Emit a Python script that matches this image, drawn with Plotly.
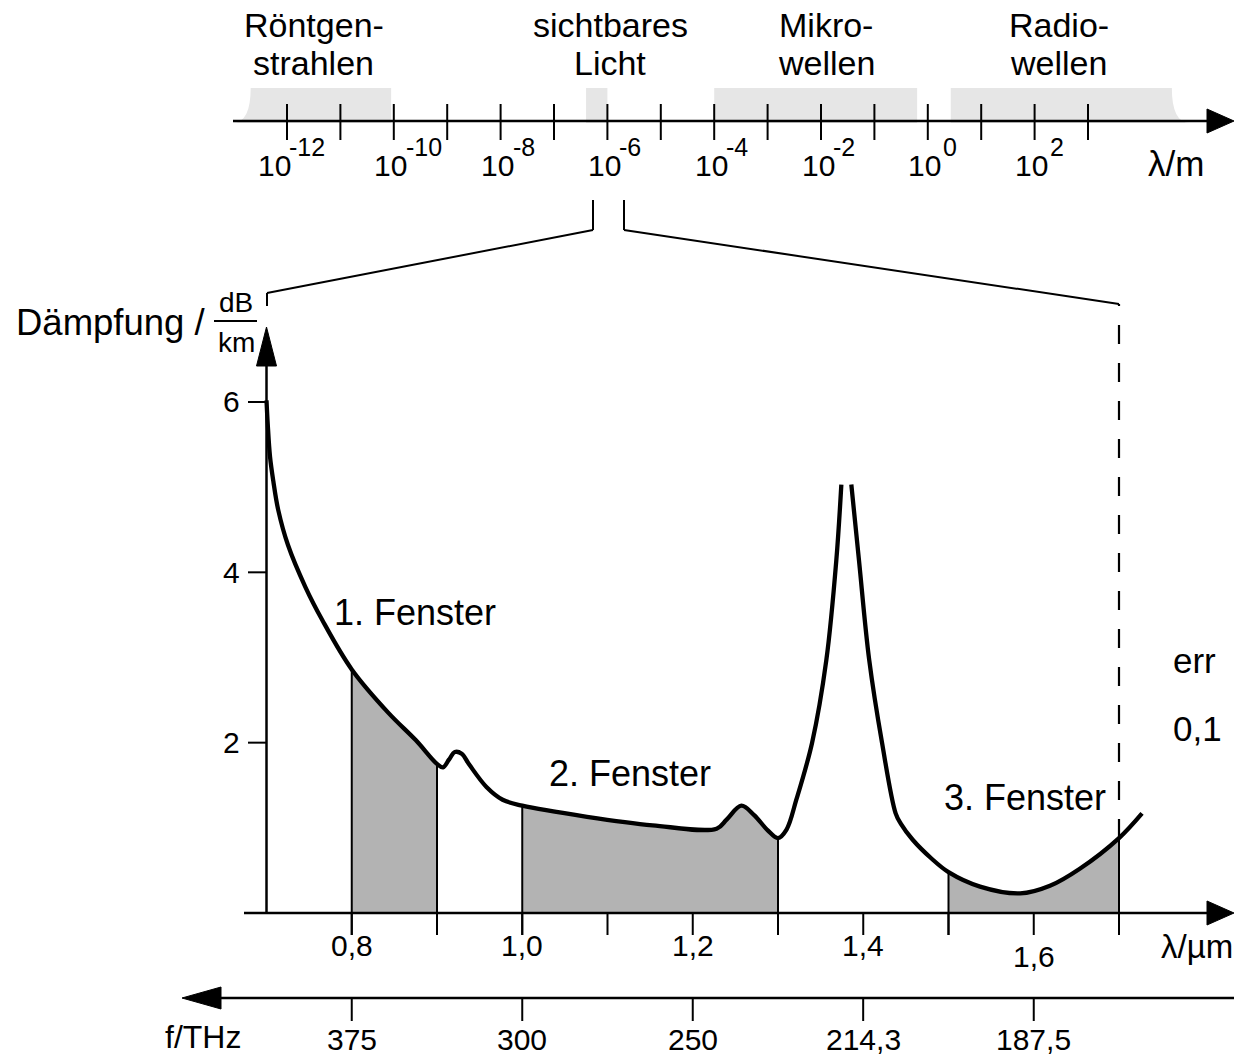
import plotly.graph_objects as go

# ---------------- data ----------------
# attenuation curve (dB/km) over wavelength (µm), left branch up to the OH peak
lam_left = [0.700, 0.7014, 0.7041, 0.708, 0.7138, 0.7252, 0.7455, 0.7654, 0.800, 0.843,
            0.875, 0.900, 0.907, 0.914, 0.921, 0.929, 0.938, 0.958, 0.977, 1.000,
            1.076, 1.153, 1.228, 1.240, 1.257, 1.272, 1.288, 1.300, 1.310, 1.3215,
            1.340, 1.3567, 1.3684, 1.3743]
att_left = [6.02, 5.75, 5.36, 5.07, 4.73, 4.32, 3.83, 3.44, 2.86, 2.35,
            2.03, 1.75, 1.71, 1.80, 1.89, 1.87, 1.74, 1.48, 1.33, 1.26,
            1.13, 1.03, 0.99, 1.10, 1.26, 1.15, 0.97, 0.88, 0.98, 1.33,
            2.00, 2.97, 4.14, 5.03]
# right branch after the OH peak
lam_right = [1.386, 1.395, 1.407, 1.422, 1.438, 1.444, 1.458, 1.480, 1.500, 1.537,
             1.584, 1.619, 1.654, 1.700, 1.727]
att_right = [5.03, 4.14, 2.97, 2.00, 1.17, 1.05, 0.86, 0.64, 0.48, 0.31,
             0.23, 0.32, 0.52, 0.88, 1.17]

# transmission windows
win_start = [0.8, 1.0, 1.5]
win_end = [0.9, 1.3, 1.7]
win_labels = ["1. Fenster", "2. Fenster", "3. Fenster"]
win_label_lam = [0.874, 1.126, 1.590]
win_label_att = [3.53, 1.64, 1.36]

# wavelength axis (µm)
x_ticks = [0.8, 0.9, 1.0, 1.1, 1.2, 1.3, 1.4, 1.5, 1.6, 1.7]
x_label_vals = [0.8, 1.0, 1.2, 1.4, 1.6]
x_label_text = ["0,8", "1,0", "1,2", "1,4", "1,6"]
y_ticks = [2, 4, 6]
y_tick_text = ["2", "4", "6"]

# frequency axis (THz)
freq_THz = [375, 300, 250, 214.3, 187.5]
freq_text = ["375", "300", "250", "214,3", "187,5"]

# electromagnetic spectrum (exponent of λ/m)
spec_ticks = list(range(-12, 4))
spec_labels = [-12, -10, -8, -6, -4, -2, 0, 2]
band_line1 = ["Röntgen-", "sichtbares", "Mikro-", "Radio-"]
band_line2 = ["strahlen", "Licht", "wellen", "wellen"]
band_start = [-12.68, -6.40, -4.00, 0.43]
band_end = [-10.05, -6.00, -0.20, 4.57]
band_label = [-11.50, -5.95, -1.90, 2.45]

# ---------------- layout calibration ----------------
W, H = 1234, 1057
FONT = "Liberation Sans, Arial, Helvetica, sans-serif"
PX_UM, X07_PX = 852.5, 266.5      # px per µm, pixel of λ = 0.7 µm
PX_DB, Y0_PX = 85.17, 913.0       # px per dB/km, pixel of 0 dB/km
PX_DEC, E12_PX = 53.4, 287.0      # px per decade, pixel of 10^-12 m


def lam_px(p):
    return 0.7 + (p - X07_PX) / PX_UM


def att_px(p):
    return (Y0_PX - p) / PX_DB


def exp_px(p):
    return -12 + (p - E12_PX) / PX_DEC


def yp(p):
    return 1 - p / H


def xp(p):
    return p / W


shapes = []
ann = []


def line(x0, y0, x1, y1, xref="x", yref="y", w=2.5, dash=None):
    ln = dict(color="black", width=w)
    if dash:
        ln["dash"] = dash
    shapes.append(dict(type="line", x0=x0, y0=y0, x1=x1, y1=y1,
                       xref=xref, yref=yref, line=ln, layer="above"))


def poly(pts, xref, yref, color="black"):
    path = "M " + " L ".join(f"{x},{y}" for x, y in pts) + " Z"
    shapes.append(dict(type="path", path=path, xref=xref, yref=yref,
                       fillcolor=color, line=dict(color=color, width=1), layer="above"))


def text(x, y, s, size, xref="x", yref="y", xanchor="center", yanchor="middle", xshift=0, yshift=0):
    ann.append(dict(x=x, y=y, text=s, xref=xref, yref=yref, xanchor=xanchor,
                    yanchor=yanchor, showarrow=False, xshift=xshift, yshift=yshift,
                    font=dict(family=FONT, size=size, color="black"), borderpad=0))


fig = go.Figure()

# ---- window fills ----
all_lam = lam_left + lam_right
all_att = att_left + att_right
for a, b in zip(win_start, win_end):
    sx = [l for l in all_lam if a - 1e-9 <= l <= b + 1e-9]
    sy = [all_att[all_lam.index(l)] for l in sx]
    fig.add_trace(go.Scatter(x=sx, y=sy, mode="lines", fill="tozeroy",
                             fillcolor="#b3b3b3", line=dict(width=0, shape="spline"),
                             hoverinfo="skip"))

# ---- attenuation curve ----
for lx, ly in ((lam_left, att_left), (lam_right, att_right)):
    fig.add_trace(go.Scatter(x=lx, y=ly, mode="lines",
                             line=dict(color="black", width=4.3, shape="spline", smoothing=1.0),
                             hoverinfo="skip"))

# invisible trace tying the spectrum axis
fig.add_trace(go.Scatter(x=spec_ticks, y=[att_px(121)] * len(spec_ticks), xaxis="x2", yaxis="y",
                         mode="markers", marker=dict(opacity=0), hoverinfo="skip"))

# ---- window boundary lines ----
tick_low = att_px(935)
for a, b in zip(win_start, win_end):
    for edge in (a, b):
        top = all_att[all_lam.index(edge)]
        line(edge, tick_low, edge, top, w=2)

# ---- main axes ----
line(0.7, 0, 0.7, att_px(364), w=2.5)
poly([(0.7, att_px(327)), (lam_px(256.5), att_px(366)), (lam_px(276.5), att_px(366))], "x", "y")
line(lam_px(244), 0, lam_px(1209), 0, w=2.5)
poly([(lam_px(1234), 0), (lam_px(1207), att_px(901)), (lam_px(1207), att_px(925))], "x", "y")
for t in x_ticks:
    line(t, 0, t, tick_low, w=2)
for t in y_ticks:
    line(lam_px(248), t, 0.7, t, w=2)

# dashed extension of window 3
line(win_end[-1], att_right[-2], win_end[-1], att_px(304), w=2.2, dash="19px,19px")

# ---- connector bracket from spectrum to chart ----
line(xp(267), yp(306), xp(267), yp(293), "paper", "paper", w=2)
line(xp(267), yp(293), xp(593), yp(230), "paper", "paper", w=2)
line(xp(593), yp(230), xp(593), yp(200), "paper", "paper", w=2)
line(xp(624), yp(200), xp(624), yp(230), "paper", "paper", w=2)
line(xp(624), yp(230), xp(1119), yp(304), "paper", "paper", w=2)

# ---- spectrum bands ----
yb, yt = yp(123), yp(88)
for i, (s, e) in enumerate(zip(band_start, band_end)):
    fl = 0.34
    if i == 0:
        path = f"M {s - fl},{yb} Q {s},{yb} {s},{yt} L {e},{yt} L {e},{yb} Z"
    elif i == len(band_start) - 1:
        path = f"M {s},{yb} L {s},{yt} L {e},{yt} Q {e},{yb} {e + fl},{yb} Z"
    else:
        path = f"M {s},{yb} L {s},{yt} L {e},{yt} L {e},{yb} Z"
    shapes.insert(0, dict(type="path", path=path, xref="x2", yref="paper",
                          fillcolor="#e6e6e6", line=dict(width=0), layer="below"))
    text(band_label[i], yp(25), band_line1[i], 34, xref="x2", yref="paper")
    text(band_label[i], yp(63.5), band_line2[i], 34, xref="x2", yref="paper")

# spectrum axis
line(exp_px(233), yp(121), exp_px(1209), yp(121), "x2", "paper", w=2.5)
poly([(exp_px(1234), yp(121)), (exp_px(1207), yp(109)), (exp_px(1207), yp(133))], "x2", "paper")
for e in spec_ticks:
    line(e, yp(104), e, yp(140), "x2", "paper", w=2)
for e in spec_labels:
    sh = -10 if e == -12 else 0
    text(e, yp(166), "10", 30, xref="x2", yref="paper", xshift=-3 + sh)
    text(e, yp(147), f"{e}" if e >= 0 else f"-{abs(e)}", 25, xref="x2", yref="paper",
         xanchor="left", xshift=(11 if e < 0 else 14) + sh)
text(xp(1147), yp(163), "λ/m", 35, xref="paper", yref="paper", xanchor="left")

# ---- frequency axis ----
line(xp(219), yp(998), xp(1234), yp(998), "paper", "paper", w=2.5)
poly([(xp(182), yp(998)), (xp(221), yp(987)), (xp(221), yp(1009))], "paper", "paper")
for f, s in zip(freq_THz, freq_text):
    lam = 300.0 / f
    line(lam, yp(998), lam, yp(1021), "x", "paper", w=2)
    text(lam, yp(1039), s, 30, yref="paper")
text(xp(203), yp(1037), "f/THz", 32, xref="paper", yref="paper")

# ---- main labels ----
for v, s in zip(y_ticks, y_tick_text):
    text(lam_px(241), v, s, 30, xanchor="right")
for v, s in zip(x_label_vals, x_label_text):
    text(v, att_px(956 if s == "1,6" else 945), s, 30)
text(xp(1160), yp(946), "λ/µm", 33, xref="paper", yref="paper", xanchor="left")
for lx, ly, s in zip(win_label_lam, win_label_att, win_labels):
    text(lx, ly, s, 36)

text(xp(207), yp(322), "Dämpfung /", 36.5, xref="paper", yref="paper", xanchor="right")
text(xp(236), yp(302), "dB", 28, xref="paper", yref="paper")
text(xp(236), yp(342), "km", 28, xref="paper", yref="paper")
line(xp(214), yp(321), xp(257), yp(321), "paper", "paper", w=2)

text(xp(1172), yp(660), "err", 35, xref="paper", yref="paper", xanchor="left")
text(xp(1172), yp(728), "0,1", 35, xref="paper", yref="paper", xanchor="left")

fig.update_layout(
    width=W, height=H, margin=dict(l=0, r=0, t=0, b=0, pad=0),
    paper_bgcolor="white", plot_bgcolor="white", showlegend=False,
    xaxis=dict(range=[lam_px(0), lam_px(W)], visible=False, fixedrange=True),
    yaxis=dict(range=[att_px(H), att_px(0)], visible=False, fixedrange=True),
    xaxis2=dict(range=[exp_px(0), exp_px(W)], overlaying="x", visible=False, fixedrange=True),
    shapes=shapes, annotations=ann,
)

fig.write_html("out.html", config={"displayModeBar": False},
               post_script="document.body.style.margin='0';document.body.style.overflow='hidden';")
